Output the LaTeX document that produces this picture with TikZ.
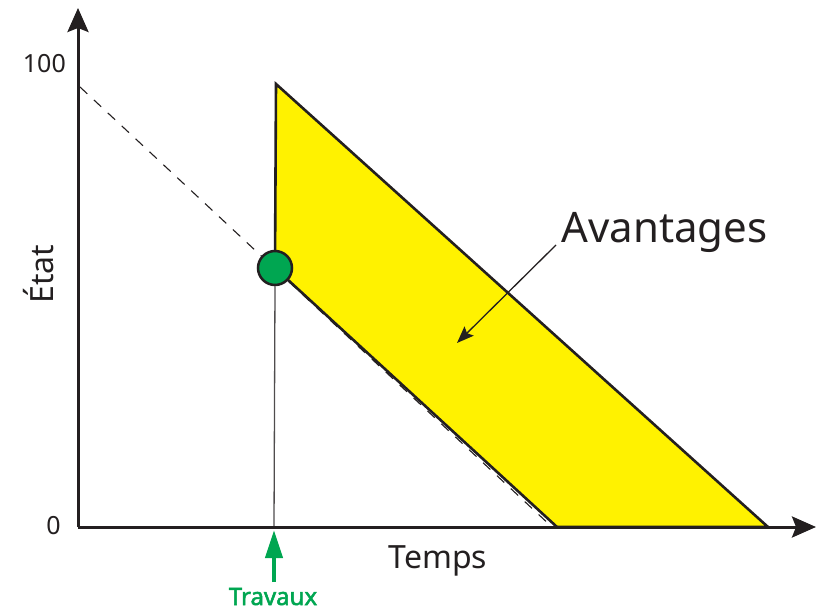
\documentclass[tikz,border=0pt]{standalone}
\usepackage{fontspec}
\setmainfont{Noto Sans}
\newfontfamily\travfont{Noto Sans}[FakeBold=2.2]
\usetikzlibrary{arrows.meta}
\definecolor{ink}{HTML}{231F20}
\definecolor{grn}{HTML}{00A651}
\definecolor{ylw}{HTML}{FFF200}
\tikzset{
  axis/.style={line width=3pt, draw=ink, -{Stealth[length=24pt, width=21pt, inset=4pt]}},
  lbl/.style={inner sep=0pt, text=ink},
}
\begin{document}
\begin{tikzpicture}[x=1pt, y=-1pt]
\useasboundingbox (0,0) rectangle (817,612);
% coordinates
\coordinate (O) at (78,527);
\coordinate (ytip) at (78,8);
\coordinate (xtip) at (816,527);
\coordinate (d0) at (80,87);
\coordinate (d1) at (552,527);
\coordinate (p1) at (276,84);
\coordinate (p2) at (768,527);
\coordinate (p3) at (557,527);
\coordinate (p4) at (275,268);
\coordinate (vb) at (274,527);
\coordinate (at) at (556,245);
\coordinate (ah) at (457,343);
\coordinate (gt) at (274,582);
\coordinate (gh) at (274,530);
% dashed projection
\draw[ink, line width=1.1pt, dash pattern=on 10pt off 9pt] (d0) -- (d1);
% benefit area
\fill[ylw] (p1) -- (p2) -- (p3) -- (p4) -- cycle;
\draw[ink, line width=2.6pt, line join=miter] (p4) -- (p1) -- (p2) -- (p3) -- (p4);
% vertical
\node[circle, minimum size=34pt, inner sep=0pt, fill=grn, draw=ink, line width=2.5pt] (dot) at (275,268) {};
\draw[draw=ink!80, line width=1.3pt] (dot.south) -- (vb);
% axes
\draw[axis] (O) -- (ytip);
\draw[axis] (O) -- (xtip);
% labels
\node[lbl, font=\fontsize{25}{25}\selectfont, anchor=base east] (l100) at (66,73) {100};
\node[lbl, font=\fontsize{25}{25}\selectfont, anchor=base] (l0) at (53.5,534) {0};
\node[lbl, font=\fontsize{32}{32}\selectfont, anchor=base] (temps) at (438,568) {Temps};
\node[lbl, font=\fontsize{32}{32}\selectfont, anchor=base, rotate=90] (etat) at (53,274) {État};
\node[lbl, font=\fontsize{42}{42}\selectfont, anchor=base] (avant) at (664.5,243) {Avantages};
\node[inner sep=0pt, text=grn, font=\travfont\fontsize{24}{24}\selectfont, anchor=base] (trav) at (273,605) {Travaux};
% arrows
\draw[ink, line width=1.3pt, -{Stealth[length=17pt, width=13pt, inset=3pt]}] (at) -- (ah);
\draw[grn, line width=4pt, -{Triangle[length=28pt, width=17pt]}] (gt) -- (gh);
\end{tikzpicture}
\end{document}
